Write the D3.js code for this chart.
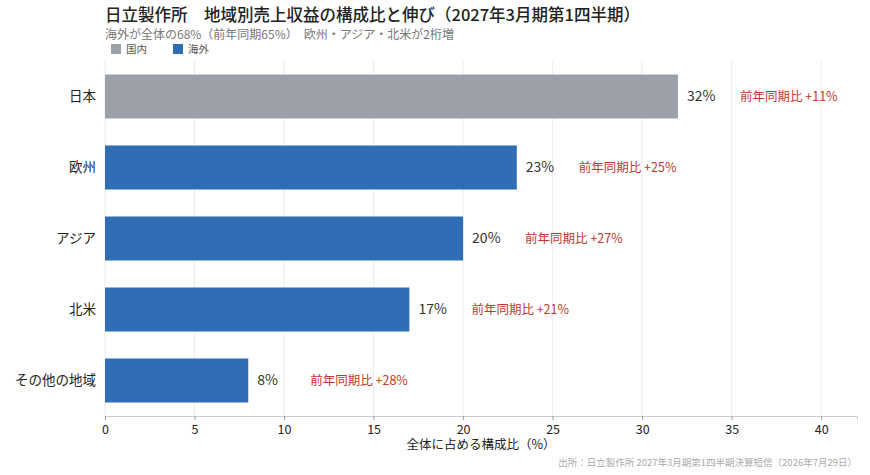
<!DOCTYPE html>
<html><head><meta charset="utf-8">
<script src="https://cdn.jsdelivr.net/npm/d3@7"></script>
<style>body{margin:0;background:#fff;font-family:"Noto Sans CJK JP","Noto Sans",sans-serif;}</style>
</head><body><svg id="c" width="870" height="475"></svg>
<script>
var regions = ['日本', '欧州', 'アジア', '北米', 'その他の地域'];
var shares = [32, 23, 20, 17, 8];
var growth = [11, 25, 27, 21, 28];
var groups = ['国内', '海外', '海外', '海外', '海外'];
var xTicks = [0, 5, 10, 15, 20, 25, 30, 35, 40];

var svg = d3.select('#c');
var font = '"Noto Sans CJK JP","Noto Sans",sans-serif';
var color = d3.scaleOrdinal().domain(['国内', '海外']).range(['#9ca1a9', '#2f6db5']);
var x = d3.scaleLinear().domain([0, 42]).range([105, 857]);
var y = d3.scaleBand().domain(regions).range([61, 416]).paddingInner(0.38).paddingOuter(0.19);

// grid
svg.append('g').selectAll('line').data(xTicks).join('line')
    .attr('x1', function (d) { return x(d); }).attr('x2', function (d) { return x(d); })
    .attr('y1', 61).attr('y2', 416).attr('stroke', '#ececec');

svg.append('g').selectAll('rect').data(regions).join('rect')
    .attr('x', x(0)).attr('y', function (d) { return y(d); })
    .attr('width', function (d, i) { return x(shares[i]) - x(0); })
    .attr('height', y.bandwidth())
    .attr('fill', function (d, i) { return color(groups[i]); });

var labels = svg.append('g').selectAll('g').data(regions).join('g')
    .attr('transform', function (d, i) { return 'translate(' + x(shares[i]) + ',' + (y(d) + y.bandwidth() / 2) + ')'; });
labels.append('text').attr('x', 9).attr('dy', '0.35em').attr('font-size', 14).attr('fill', '#333')
    .text(function (d, i) { return shares[i] + '%'; });
labels.append('text').attr('x', 62).attr('dy', '0.35em').attr('font-size', 12.5).attr('fill', '#c0392b')
    .text(function (d, i) { return '前年同期比 +' + growth[i] + '%'; });

var yAxis = svg.append('g').attr('transform', 'translate(105,0)')
    .call(d3.axisLeft(y).tickSize(0).tickPadding(9));
yAxis.select('.domain').remove();
yAxis.selectAll('text').attr('font-size', 13.5).attr('fill', '#222').attr('font-family', font);

var xAxis = svg.append('g').attr('transform', 'translate(0,416)')
    .call(d3.axisBottom(x).tickValues(xTicks).tickSize(4).tickPadding(5));
xAxis.select('.domain').attr('stroke', '#ccc');
xAxis.selectAll('line').attr('stroke', '#999');
xAxis.selectAll('text').attr('font-size', 12.5).attr('fill', '#222').attr('font-family', font);

svg.append('text').attr('x', 481).attr('y', 449).attr('text-anchor', 'middle')
    .attr('font-size', 12.5).attr('fill', '#222').text('全体に占める構成比（%）');

svg.append('text').attr('x', 105).attr('y', 21).attr('font-size', 16.5).attr('font-weight', 500).attr('fill', '#222')
    .text('日立製作所　地域別売上収益の構成比と伸び（2027年3月期第1四半期）');
svg.append('text').attr('x', 105).attr('y', 39).attr('font-size', 12).attr('fill', '#777')
    .text('海外が全体の68%（前年同期65%）　欧州・アジア・北米が2桁増');

var legend = svg.append('g').selectAll('g').data(color.domain()).join('g')
    .attr('transform', function (d, i) { return 'translate(' + (111 + i * 62) + ',44)'; });
legend.append('rect').attr('width', 10).attr('height', 10).attr('fill', function (d) { return color(d); });
legend.append('text').attr('x', 15).attr('y', 9).attr('font-size', 10.5).attr('fill', '#555').text(function (d) { return d; });

svg.append('text').attr('x', 857).attr('y', 466).attr('text-anchor', 'end')
    .attr('font-size', 9.5).attr('fill', '#aaa').text('出所：日立製作所 2027年3月期第1四半期決算短信（2026年7月29日）');
</script></body></html>
